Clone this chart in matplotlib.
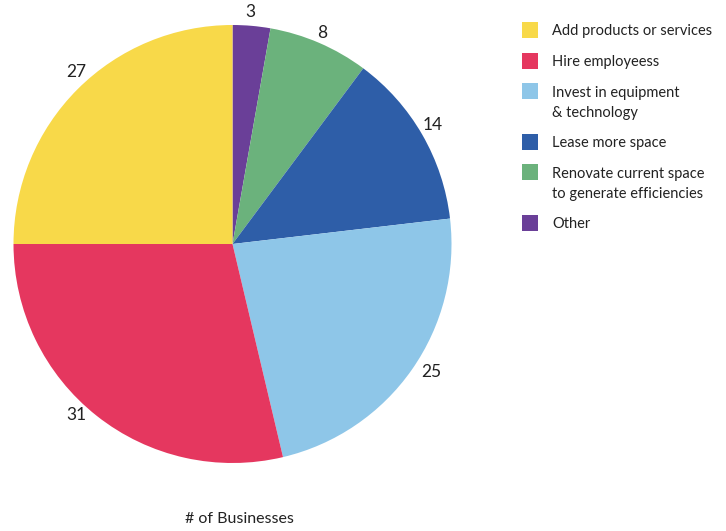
import numpy as np
import matplotlib.pyplot as plt
from matplotlib.patches import Rectangle

# clockwise from 12 o'clock
categories = ["Other", "Renovate current space\nto generate efficiencies",
              "Lease more space", "Invest in equipment\n& technology",
              "Hire employeess", "Add products or services"]
counts = [3, 8, 14, 25, 31, 27]
colors = ["#6a3f98", "#6bb27c", "#2e5ea8", "#8ec6e8", "#e5375f", "#f8d949"]

# legend order as in the original
legend_order = [5, 4, 3, 2, 1, 0]

# small hand nudges of the value labels (degrees, radius factor)
label_dang = [0.7, 0.3, 0.7, 2.3, -4.1, -2.8]
label_rad = [1.063, 1.046, 1.064, 1.08, 1.057, 1.06]

FONT = ["Lato", "DejaVu Sans"]
W, H = 726, 531

fig = plt.figure(figsize=(W / 100, H / 100), dpi=100)

cx, cy, r = 232.5, 244, 219
ax = fig.add_axes([(cx - r) / W, (H - cy - r) / H, 2 * r / W, 2 * r / H])
wedges, _ = ax.pie(
    counts,
    colors=colors,
    startangle=90,
    counterclock=False,
    wedgeprops=dict(linewidth=0),
)
for w, n, da, rr in zip(wedges, counts, label_dang, label_rad):
    ang = np.deg2rad((w.theta1 + w.theta2) / 2 + da)
    ax.text(rr * np.cos(ang), rr * np.sin(ang), str(n), fontsize=12.5,
            family=FONT, color="#222222", ha="center", va="center")
ax.set_xlim(-1, 1)
ax.set_ylim(-1, 1)
ax.axis("off")

# legend, drawn in pixel coords (from top)
y = 30
for i in legend_order:
    lines = categories[i].split("\n")
    fig.patches.append(Rectangle((522 / W, (H - y - 8) / H), 16 / W, 16 / H,
                                 transform=fig.transFigure, facecolor=colors[i],
                                 edgecolor="none"))
    for ln in lines:
        fig.text(552 / W, (H - y - 1.5) / H, ln, fontsize=10.5, family=FONT,
                 va="center", ha="left", color="#222222")
        y += 20
    y += 10.6

fig.text(239 / W, (H - 519) / H, "# of Businesses", fontsize=11.5, family=FONT,
         ha="center", va="center", color="#222222")

fig.savefig("out.png", dpi=100)
